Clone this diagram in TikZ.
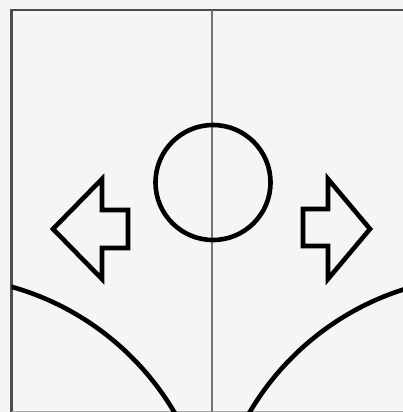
\documentclass[tikz,border=0pt]{standalone}
\begin{document}
\begin{tikzpicture}[x=1pt,y=-1pt,
  frame/.style={draw=black!70,line width=2.2pt},
  thick shape/.style={draw=black,line width=4.6pt,line join=miter},
  midline/.style={draw=black!55,line width=1.3pt}]
\fill[black!4] (0,0) rectangle (403,412);
\useasboundingbox (0,0) rectangle (403,412);
% frame
\draw[frame] (403,10) -- (11.5,10) -- (11.5,412);
\draw[draw=black!35,line width=1pt] (11.5,411) -- (403,411);
% middle line
\draw[midline] (212,10) -- (212,412);
% circle
\draw[thick shape] (213,182.5) circle (57.5);
% left arrow
\draw[thick shape] (53,229) -- (102,179) -- (102,210) -- (128,210) -- (128,248) -- (102,248) -- (102,279) -- cycle;
% right arrow
\draw[thick shape] (370,229) -- (328,179) -- (328,209) -- (303,209) -- (303,246) -- (328,246) -- (328,279) -- cycle;
% arcs
\begin{scope}
\clip (11.5,10) rectangle (403,411);
\draw[thick shape] (-63,552) circle (275.4);
\draw[thick shape] (487,552) circle (275.4);
\end{scope}
\end{tikzpicture}
\end{document}
